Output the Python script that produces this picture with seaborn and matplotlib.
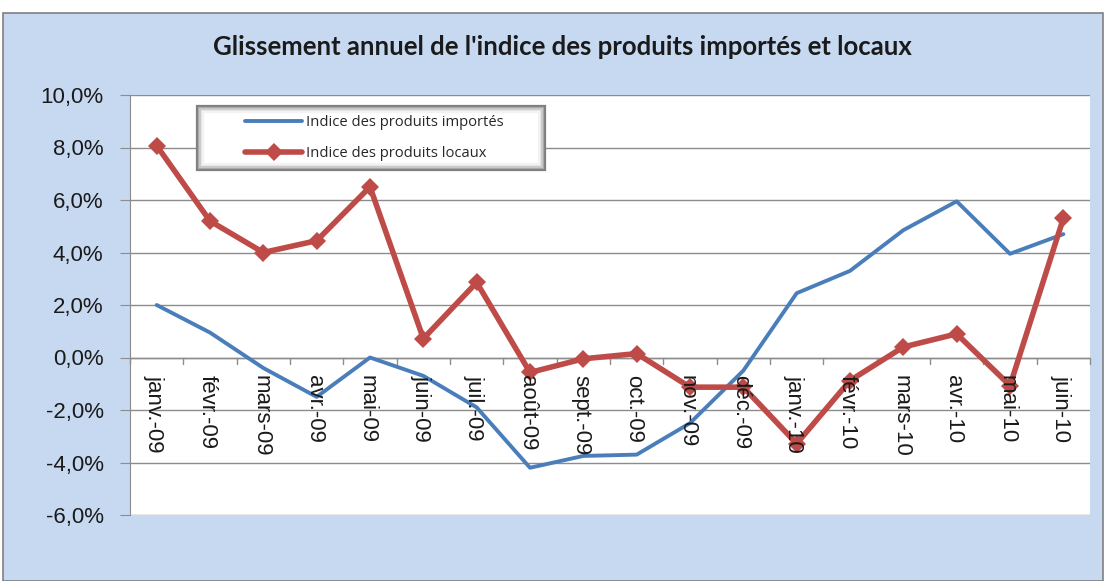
import numpy as np
import pandas as pd
import seaborn as sns
import matplotlib.pyplot as plt
from matplotlib.patches import Rectangle
from matplotlib.ticker import FuncFormatter

# data (en %)
mois = ["janv.-09", "févr.-09", "mars-09", "avr.-09", "mai-09", "juin-09",
        "juil.-09", "août-09", "sept.-09", "oct.-09", "nov.-09", "déc.-09",
        "janv.-10", "févr.-10", "mars-10", "avr.-10", "mai-10", "juin-10"]
importes = [2.0, 0.95, -0.4, -1.5, 0.0, -0.7, -1.9, -4.2, -3.75, -3.7, -2.5, -0.5,
            2.45, 3.3, 4.85, 5.95, 3.95, 4.7]
locaux = [8.07, 5.2, 4.0, 4.45, 6.5, 0.72, 2.86, -0.57, -0.05, 0.15, -1.13, -1.13,
          -3.28, -0.88, 0.4, 0.9, -1.07, 5.3]

df = pd.DataFrame({"pos": np.arange(len(mois)), "mois": mois,
                   "importes": importes, "locaux": locaux})

sns.set_style("white")
plt.rcParams["font.family"] = ["Liberation Sans", "DejaVu Sans"]

W, H = 1104, 581
fig = plt.figure(figsize=(W / 100, H / 100), dpi=100)
fig.patch.set_facecolor("white")
# blue chart frame
fig.patches.append(Rectangle((3 / W, 0), 1 - 4 / W, 1 - 13 / H,
                             transform=fig.transFigure, facecolor="#C6D9F1",
                             edgecolor="#808080", linewidth=1.2, zorder=-5))

ax = fig.add_axes([130 / W, 1 - 515 / H, 960 / W, 420 / H])
ax.set_facecolor("white")

sns.lineplot(data=df, x="pos", y="importes", ax=ax, color="#4A7EBB",
             linewidth=2.8, label="Indice des produits importés")
sns.lineplot(data=df, x="pos", y="locaux", ax=ax, color="#BE4B48",
             linewidth=4, marker="D", markersize=9, markeredgewidth=0,
             label="Indice des produits locaux")

ax.set_xlim(-0.5, len(mois) - 0.5)
ax.set_ylim(-6, 10)
ax.set_yticks(np.arange(-6, 10.1, 2))
ax.yaxis.set_major_formatter(FuncFormatter(lambda v, p: f"{v:.1f}%".replace(".", ",")))
ax.grid(axis="y", color="#8C8C8C", linewidth=1)
ax.set_axisbelow(True)

for s in ["top", "right", "bottom"]:
    ax.spines[s].set_visible(False)
ax.spines["left"].set_color("#8C8C8C")
ax.axhline(0, color="#8C8C8C", linewidth=1, zorder=1)

ax.tick_params(axis="y", which="both", direction="out", length=7, color="#8C8C8C",
               labelsize=16, pad=12, left=True, labelcolor="#1a1a1a")
ax.set_xticks(df["pos"])
ax.set_xticklabels([])
ax.tick_params(axis="x", length=0)
# category separators on the zero line
for b in np.arange(-0.5, len(mois), 1):
    ax.plot([b, b], [0, -0.25], color="#8C8C8C", linewidth=1, clip_on=False, zorder=1)
for i, m in enumerate(mois):
    ax.text(i - 0.05, -0.65, m, rotation=270, ha="center", va="top", fontsize=16,
            color="#1a1a1a")

ax.set_xlabel("")
ax.set_ylabel("")

# legend box with soft inner shading
bx0, by0, bx1, by1 = 197, 106, 545, 170
for k, c in enumerate(["#7F7F7F", "#A6A6A6", "#C8C8C8", "#E4E4E4", "#F3F3F3"]):
    ax.add_patch(Rectangle(((bx0 + k * 1.6) / W, 1 - (by1 - k * 1.6) / H),
                           (bx1 - bx0 - k * 3.2) / W, (by1 - by0 - k * 3.2) / H,
                           transform=fig.transFigure, clip_on=False,
                           facecolor="white" if k == 0 else "none",
                           edgecolor=c, linewidth=1.6, zorder=5))
leg = ax.legend(loc="center", bbox_to_anchor=((bx0 + bx1) / 2 / W + 0.003, 1 - (by0 + by1) / 2 / H),
                bbox_transform=fig.transFigure, frameon=False, handlelength=3.9,
                labelspacing=1.05, handletextpad=0.25,
                prop={"family": "Open Sans", "size": 10.6})
leg.set_zorder(6)

fig.text(562 / W, 1 - 47 / H, "Glissement annuel de l'indice des produits importés et locaux",
         ha="center", va="center", fontsize=18.5, fontweight="bold", family="Lato",
         color="#1a1a1a")

fig.savefig("out.png", dpi=100)
